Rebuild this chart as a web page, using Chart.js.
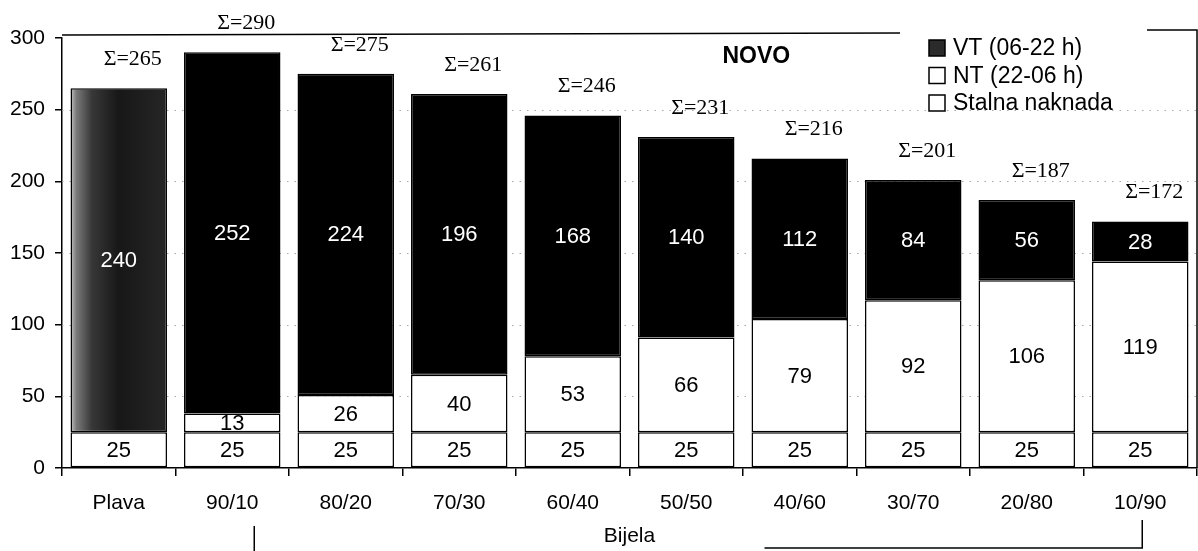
<!DOCTYPE html>
<html>
<head>
<meta charset="utf-8">
<script src="https://cdn.jsdelivr.net/npm/chart.js@4"></script>
<style>
  html, body { margin: 0; padding: 0; background: #fff; }
  #wrap { width: 1198px; height: 551px; }
</style>
</head>
<body>
<div id="wrap"><canvas id="c" width="1198" height="551"></canvas></div>
<script>
// Tariff models: blue tariff vs. white tariff with day/night splits
const categories = ['Plava', '90/10', '80/20', '70/30', '60/40', '50/50', '40/60', '30/70', '20/80', '10/90'];
const stalnaNaknada = [25, 25, 25, 25, 25, 25, 25, 25, 25, 25];
const ntValues = [0, 13, 26, 40, 53, 66, 79, 92, 106, 119];
const vtValues = [240, 252, 224, 196, 168, 140, 112, 84, 56, 28];
const yTickValues = [0, 50, 100, 150, 200, 250, 300];
const seriesNames = ['Stalna naknada', 'NT (22-06 h)', 'VT (06-22 h)'];
const groupLabel = 'Bijela';
const noteLabel = 'NOVO';

// Column totals shown as Σ above each stack
const totals = categories.map((_, i) => stalnaNaknada[i] + ntValues[i] + vtValues[i]);

const SANS = '"Liberation Sans", Arial, sans-serif';
const SERIF = '"Liberation Serif", "Times New Roman", serif';
const labelColors = ['#000', '#000', '#fff'];
const BAR_PCT = 0.85;

// The blue-tariff column is shaded with a grey ramp instead of solid black
function vtFill(ctx) {
  if (ctx.type !== 'data') return '#000';
  if (ctx.dataIndex !== 0) return '#000';
  const chart = ctx.chart;
  const xs = chart.scales.x;
  if (!xs || !chart.chartArea) return '#2a2a2a';
  const cx = xs.getPixelForValue(0);
  const half = (xs.width / categories.length) * BAR_PCT / 2;
  const g = chart.ctx.createLinearGradient(cx - half, 0, cx + half, 0);
  g.addColorStop(0, '#c4c4c4');
  g.addColorStop(0.06, '#7a7a7a');
  g.addColorStop(0.22, '#383838');
  g.addColorStop(0.5, '#171717');
  g.addColorStop(1, '#262626');
  return g;
}

// Dotted horizontal grid lines behind the bars
const dottedGrid = {
  id: 'dottedGrid',
  beforeDatasetsDraw(chart) {
    const { ctx, chartArea } = chart;
    const ys = chart.scales.y;
    ctx.save();
    ctx.strokeStyle = '#a8a8a8';
    ctx.lineWidth = 1;
    ctx.setLineDash([1.5, 6]);
    yTickValues.forEach(v => {
      if (v === 0 || v === 300) return;
      const y = Math.round(ys.getPixelForValue(v)) + 0.5;
      ctx.beginPath();
      ctx.moveTo(chartArea.left, y);
      ctx.lineTo(chartArea.right, y);
      ctx.stroke();
    });
    ctx.restore();
  }
};

// Values inside each segment and Σ totals above each column
const segmentLabels = {
  id: 'segmentLabels',
  afterDatasetsDraw(chart) {
    const ctx = chart.ctx;
    ctx.save();
    ctx.textAlign = 'center';
    ctx.textBaseline = 'middle';
    ctx.font = '22px ' + SANS;
    chart.data.datasets.forEach((ds, di) => {
      const meta = chart.getDatasetMeta(di);
      meta.data.forEach((bar, i) => {
        const v = ds.data[i];
        if (!v) return;
        ctx.fillStyle = labelColors[di];
        ctx.fillText(String(v), bar.x, (bar.y + bar.base) / 2 + 1);
      });
    });
    const topMeta = chart.getDatasetMeta(2);
    ctx.font = '22px ' + SERIF;
    ctx.fillStyle = '#000';
    topMeta.data.forEach((bar, i) => {
      ctx.fillText('\u03A3=' + totals[i], bar.x + 14, bar.y - 29);
    });
    ctx.restore();
  }
};

// Plot frame, legend, caption and the bracket grouping the white-tariff columns
const decorations = {
  id: 'decorations',
  afterDraw(chart) {
    const { ctx, chartArea } = chart;
    const xs = chart.scales.x;
    const L = chartArea.left, R = chartArea.right, T = chartArea.top, B = chartArea.bottom;
    ctx.save();
    ctx.strokeStyle = '#000';
    ctx.lineWidth = 1.5;
    // top frame line, interrupted by the legend box
    ctx.beginPath();
    ctx.moveTo(L, T - 3);
    ctx.lineTo(R - 297, T - 5);
    ctx.stroke();
    // legend box top edge and right frame line
    ctx.beginPath();
    ctx.moveTo(R - 50, T - 8);
    ctx.lineTo(R, T - 8);
    ctx.lineTo(R, B);
    ctx.stroke();

    // legend
    const items = [
      { text: seriesNames[2], fill: '#2b2b2b' },
      { text: seriesNames[1], fill: '#fff' },
      { text: seriesNames[0], fill: '#fff' }
    ];
    ctx.font = '23px ' + SANS;
    ctx.textAlign = 'left';
    ctx.textBaseline = 'middle';
    items.forEach((it, k) => {
      const cy = T + 10 + k * 27.5;
      const sx = R - 268;
      ctx.fillStyle = it.fill;
      ctx.fillRect(sx, cy - 8, 16, 16);
      ctx.lineWidth = 1.5;
      ctx.strokeStyle = '#000';
      ctx.strokeRect(sx, cy - 8, 16, 16);
      ctx.fillStyle = '#000';
      ctx.fillText(it.text, sx + 24, cy + 1);
    });

    // caption
    ctx.font = 'bold 23px ' + SANS;
    ctx.textAlign = 'center';
    ctx.fillText(noteLabel, xs.getPixelForValue(5) + 70, T + 19);

    // group label under the ratio columns
    ctx.font = '21px ' + SANS;
    const midX = (xs.getPixelForValue(4) + xs.getPixelForValue(5)) / 2;
    ctx.fillText(groupLabel, midX, B + 68);

    // bracket
    ctx.lineWidth = 1.5;
    const bl = xs.getPixelForValue(1) + 22;
    const br = xs.getPixelForValue(9) + 2;
    ctx.beginPath();
    ctx.moveTo(bl, B + 58);
    ctx.lineTo(bl, B + 83);
    ctx.stroke();
    ctx.beginPath();
    ctx.moveTo(br, B + 52);
    ctx.lineTo(br, B + 80);
    ctx.lineTo(midX + 135, B + 80);
    ctx.stroke();
    ctx.restore();
  }
};

const chart = new Chart(document.getElementById('c'), {
  type: 'bar',
  data: {
    labels: categories,
    datasets: [
      { label: seriesNames[0], data: stalnaNaknada, backgroundColor: '#fff' },
      { label: seriesNames[1], data: ntValues, backgroundColor: '#fff' },
      { label: seriesNames[2], data: vtValues, backgroundColor: vtFill }
    ]
  },
  options: {
    responsive: false,
    animation: false,
    devicePixelRatio: 1,
    layout: { padding: { top: 38, right: 1, left: 0, bottom: 0 } },
    datasets: {
      bar: {
        borderColor: '#000',
        borderWidth: 1.5,
        borderSkipped: false,
        barPercentage: BAR_PCT,
        categoryPercentage: 1
      }
    },
    plugins: {
      legend: { display: false },
      tooltip: { enabled: false }
    },
    scales: {
      x: {
        stacked: true,
        grid: {
          display: true,
          drawOnChartArea: false,
          drawTicks: true,
          tickLength: 8,
          color: '#000',
          lineWidth: 1.5,
          offset: true
        },
        border: { display: true, color: '#000', width: 1.5 },
        ticks: {
          color: '#000',
          padding: 15,
          maxRotation: 0,
          autoSkip: false,
          font: { family: SANS, size: 21 }
        },
        afterFit(scale) { scale.height = 83; }
      },
      y: {
        stacked: true,
        min: 0,
        max: 300,
        afterBuildTicks(scale) { scale.ticks = yTickValues.map(v => ({ value: v })); },
        grid: {
          display: true,
          drawOnChartArea: false,
          drawTicks: true,
          tickLength: 7,
          color: '#000',
          lineWidth: 1.5
        },
        border: { display: true, color: '#000', width: 1.5 },
        ticks: {
          color: '#000',
          padding: 10,
          font: { family: SANS, size: 21 }
        },
        afterFit(scale) { scale.width = 62; }
      }
    }
  },
  plugins: [dottedGrid, segmentLabels, decorations]
});
</script>
</body>
</html>
